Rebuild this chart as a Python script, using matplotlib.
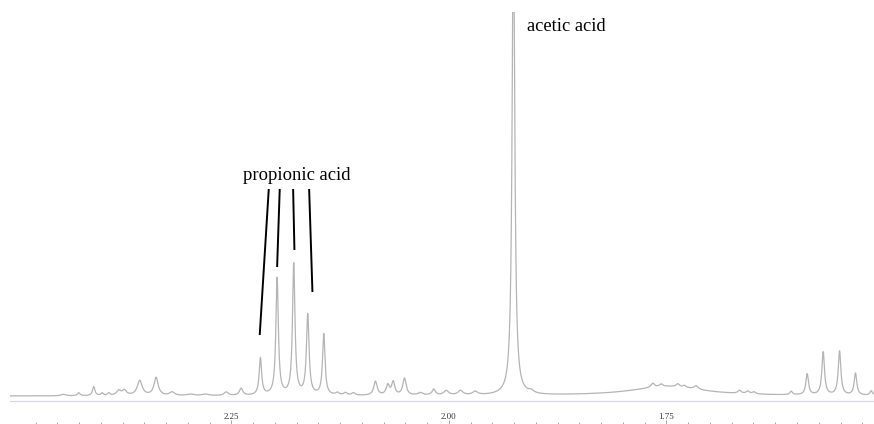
import numpy as np
import matplotlib.pyplot as plt

# peak table: shift (ppm), height, half width (ppm)
shifts = [2.4431, 2.4255, 2.4083, 2.3986, 2.3910, 2.3795, 2.3730, 2.3554, 2.3366,
          2.3182, 2.2971, 2.2799, 2.2561, 2.2389,
          2.2167, 2.1975, 2.1784, 2.1623, 2.1439,
          2.1282, 2.1190, 2.1098, 2.0845, 2.0703, 2.0641, 2.0511, 2.0328, 2.0175,
          2.0032, 1.9868, 1.9699, 1.9259, 1.9055,
          1.7490, 1.7657, 1.7561, 1.7370, 1.7293, 1.7159, 1.6661, 1.6566, 1.6494,
          1.6067, 1.5883, 1.5699, 1.5511, 1.5328, 1.5147]
heights = [1.5, 3.0, 9.0, 2.5, 2.5, 5.0, 5.0, 15, 18,
           3.5, 1.5, 1.5, 3.5, 7.0,
           37, 117, 131, 80, 61,
           2.5, 2.5, 2.5, 14, 10, 13, 17, 2.5, 6.0,
           4.5, 4.5, 3.5, 480, 2.5,
           9.5, 4.0, 2.5, 3.0, 2.0, 3.5, 3.0, 2.5, 2.0,
           3.5, 21, 43, 44, 22, 4.5]
widths = [0.0034, 0.0017, 0.0017, 0.0017, 0.0017, 0.0029, 0.0029, 0.0034, 0.0029,
          0.0034, 0.0046, 0.0046, 0.0029, 0.0023,
          0.0017, 0.0017, 0.0017, 0.0018, 0.0017,
          0.0023, 0.0023, 0.0023, 0.0023, 0.0023, 0.0021, 0.0023, 0.0034, 0.0023,
          0.0034, 0.0034, 0.0034, 0.0018, 0.0034,
          0.0500, 0.0023, 0.0023, 0.0023, 0.0023, 0.0029, 0.0023, 0.0023, 0.0023,
          0.0017, 0.0018, 0.0018, 0.0018, 0.0018, 0.0017]

# annotation lines for propionic acid: (top x, top y) -> (tip x, tip y)
prop_top_x = [2.2071, 2.1945, 2.1791, 2.1607]
prop_tip_x = [2.2175, 2.1975, 2.1776, 2.1569]
prop_top_y = 207
prop_tip_y = [61, 129, 146, 104]

major_ticks = [2.25, 2.00, 1.75]

ppm = np.linspace(2.51, 1.50, 12000)
spec = np.zeros_like(ppm)
for c, h, w in zip(shifts, heights, widths):
    spec += h * w**2 / ((ppm - c)**2 + w**2)

W, H = 874, 424
fig = plt.figure(figsize=(W / 100, H / 100), dpi=100)
ax = fig.add_axes([10 / W, (H - 401) / H, 864 / W, 389 / H])
ax.plot(ppm, spec, color='#b4b4b4', lw=0.9)
ax.set_xlim(2.5045, 1.5115)
ax.set_ylim(-5, 384)
for s in ['top', 'left', 'right']:
    ax.spines[s].set_visible(False)
ax.spines['bottom'].set_color('#d8d8e6')
ax.spines['bottom'].set_linewidth(0.9)
ax.set_xticks([])
ax.set_yticks([])

for tx, px, py in zip(prop_top_x, prop_tip_x, prop_tip_y):
    ax.plot([tx, px], [prop_top_y, py], color='black', lw=1.4,
            solid_capstyle='butt')

ax.text(2.1753, 221, 'propionic acid', family='Liberation Serif', fontsize=13.4,
        ha='center', va='center')
ax.text(1.9101, 370, 'acetic acid', family='Liberation Serif', fontsize=13.2,
        ha='left', va='center')

# scale ticks sit at the very bottom, labels above them
tax = fig.add_axes([10 / W, 0, 864 / W, 2 / H])
tax.set_xlim(ax.get_xlim())
tax.set_yticks([])
for s in tax.spines.values():
    s.set_visible(False)
tax.set_xticks(major_ticks)
tax.set_xticklabels(['%.2f' % t for t in major_ticks], family='Liberation Serif',
                    fontsize=6.5, color='#333333')
tax.set_xticks(np.arange(2.475, 1.50, -0.025), minor=True)
tax.tick_params(axis='x', which='both', direction='in', bottom=True, top=False,
                labelbottom=False, labeltop=True, color='#999999', width=0.6, pad=1)
tax.tick_params(axis='x', which='major', length=3)
tax.tick_params(axis='x', which='minor', length=1.5)

fig.savefig('out.png', dpi=100)
